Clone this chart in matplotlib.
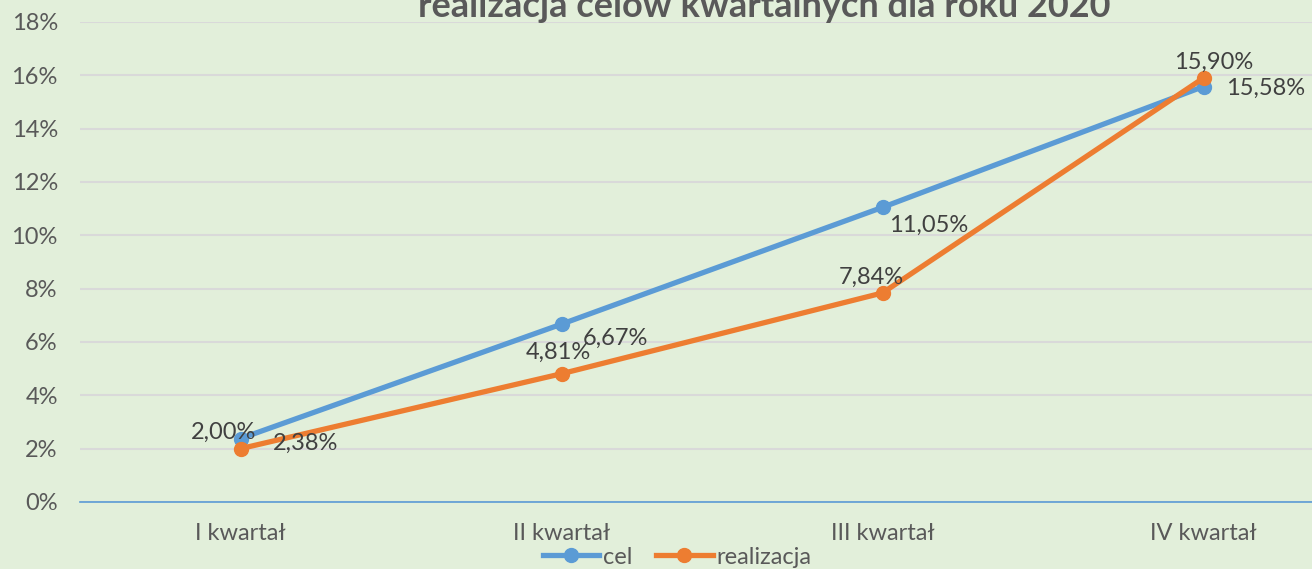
import matplotlib.pyplot as plt
from matplotlib.ticker import FuncFormatter

# dane
kwartaly = ["I kwartał", "II kwartał", "III kwartał", "IV kwartał"]
cel = [2.38, 6.67, 11.05, 15.58]
realizacja = [2.00, 4.81, 7.84, 15.90]

# przesuniecia etykiet (w pikselach)
off_cel = [(32, -5), (21, -14), (7, -18), (23, -2)]
off_real = [(-17, 16), (-3, 21), (-11, 16), (10, 16)]

tlo = "#E2EFDA"
niebieski = "#5B9BD5"
pomaranczowy = "#ED7D31"
szary = "#595959"

plt.rcParams["font.family"] = ["Lato", "DejaVu Sans"]

fig = plt.figure(figsize=(13.12, 5.69), dpi=100, facecolor=tlo)
ax = fig.add_axes([80 / 1312, 67 / 569, 1284 / 1312, 480 / 569])
ax.set_facecolor(tlo)

x = range(len(kwartaly))
ax.plot(x, cel, color=niebieski, lw=3.8, marker="o", ms=10, label="cel", zorder=3)
ax.plot(x, realizacja, color=pomaranczowy, lw=3.8, marker="o", ms=10, label="realizacja", zorder=4)

def fmt(v):
    return f"{v:.2f}%".replace(".", ",")

for i, v in enumerate(cel):
    ax.annotate(fmt(v), (i, v), xytext=off_cel[i], textcoords="offset pixels",
                ha="left", va="center", fontsize=17, color="#404040", zorder=5)
for i, v in enumerate(realizacja):
    ax.annotate(fmt(v), (i, v), xytext=off_real[i], textcoords="offset pixels",
                ha="center", va="center", fontsize=17, color="#404040", zorder=5)

ax.set_xlim(-0.5, 3.5)
ax.set_ylim(0, 18)
ax.set_yticks(range(0, 19, 2))
ax.yaxis.set_major_formatter(FuncFormatter(lambda v, p: f"{v:.0f}%"))
ax.set_xticks(list(x))
ax.set_xticklabels(kwartaly)
ax.tick_params(axis="both", length=0, labelsize=17, labelcolor=szary)
ax.tick_params(axis="x", pad=15)
ax.tick_params(axis="y", pad=16)
ax.grid(True, axis="y", color="#D9D9D9", lw=1.5)
ax.set_axisbelow(True)
for s in ["top", "right", "left"]:
    ax.spines[s].set_visible(False)
ax.spines["bottom"].set_color(niebieski)
ax.spines["bottom"].set_linewidth(1.2)

fig.text(764 / 1312, 1 - 17 / 569, "realizacja celów kwartalnych dla roku 2020",
         ha="center", va="baseline", fontsize=26, fontweight="bold", color=szary)

fig.legend(loc="center", bbox_to_anchor=(677 / 1312, 1 - 557 / 569), ncol=2,
           frameon=False, fontsize=17, labelcolor=szary, handlelength=2.4,
           handletextpad=0.15, columnspacing=1.0, borderpad=0)

fig.savefig("out.png", dpi=100, facecolor=tlo)
